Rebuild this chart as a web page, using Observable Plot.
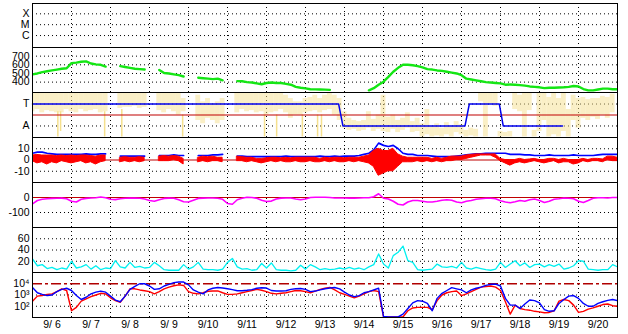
<!DOCTYPE html>
<html><head><meta charset="utf-8">
<script src="https://cdn.jsdelivr.net/npm/d3@7"></script>
<script src="https://cdn.jsdelivr.net/npm/@observablehq/plot@0.6"></script>
<style>
body{margin:0;background:#fff;}
#chart{position:relative;width:628px;height:334px;overflow:hidden;background:#fff;}
</style></head><body><div id="chart"></div>
<script>
// ---- data (3-hour samples from 9/6 00:00 to 9/21 00:00) ----
const dayLabels = ["9/ 6","9/ 7","9/ 8","9/ 9","9/10","9/11","9/12","9/13","9/14","9/15","9/16","9/17","9/18","9/19","9/20"];
const xrayTicks = [-4,-5,-6], xrayLabels = ["X","M","C"];
const speedTicks = [700,600,500,400], speedLabels = ["700","600","500","400"];
const sectorTicks = [1,-1], sectorLabels = ["T","A"];
const bzTicks = [10,0,-10], bzLabels = ["10","0","-10"];
const dstTicks = [0,-100], dstLabels = ["0","-100"];
const cyanTicks = [60,40,20], cyanLabels = ["60","40","20"];
const fluxTicks = [1e4,1e3,1e2], fluxLabels = ["10\u2074","10\u00b3","10\u00b2"];

const speed = [
 489,500,515,525,535,545,555,560,
 620,625,635,640,615,605,600,580,
 null,null,585,575,565,555,550,545,
 null,null,540,505,500,490,480,465,
 null,null,450,445,440,435,440,420,
 null,null,412,410,400,395,385,375,
 390,395,390,390,380,370,345,335,
 327,318,316,315,313,310,null,null,
 null,null,null,null,null,305,330,370,
 405,460,520,565,600,600,595,585,
 570,550,545,535,530,520,510,500,
 480,440,430,420,410,400,395,390,
 385,370,372,370,365,360,350,345,
 340,330,335,335,338,340,345,355,
 350,320,305,305,315,325,325,318,
 318];

const taLo = [
 0.3,0.5,0.2,0.4,0.3,0.2,0.2,0.5,
 0.3,0.2,0.5,0.3,0.4,0.5,0.2,0.3,
 null,null,0.6,0.7,0.7,0.8,0.6,0.7,
 null,null,0.4,0.2,0.5,0.3,0,0.3,
 null,null,-0.5,-0.8,-0.3,-0.5,-0.8,-0.5,
 null,null,0.2,0.5,0.3,0.4,0.2,0.3,
 0,0.2,0.3,0.5,0.2,-0.3,0,0,
 0.2,0.3,0.4,0.2,0.4,0.5,0,-0.5,
 -1.2,-1.4,-1.3,-1.5,-1.4,-1.2,-1.5,-1.3,
 -1.5,-1.6,-1.3,-1.6,-1.4,-1.2,-1.6,-1.5,
 -2,-1.8,-2,-1.9,-2,-1.8,-2,-1.6,
 -1.8,-2,-1.9,-2,1.2,-2,1.0,0.8,
 -2,-2,-2,0.5,0.3,-2,0.4,-2,
 -1.5,-0.5,-2,-1.8,-2,-1.5,-2,-0.5,
 -1.2,-0.3,-0.5,-0.2,-0.4,0,-0.3,0.2,
 null];
const taHi = [
 2,2,2,2,2,2,2,2,
 2,2,2,2,2,2,2,2,
 null,null,2,2,2,2,2,2,
 null,null,2,2,2,2,2,1.5,
 null,null,1.8,1.2,1.5,1.0,1.2,1.5,
 null,null,2,2,2,2,2,2,
 2,2,2,2,1.8,1.5,1.2,1.2,
 1.5,1.6,1.8,1.5,1.8,2,1.8,1.5,
 0.3,-0.3,-0.5,-0.6,-0.5,0.3,-0.4,0,
 1.8,-0.2,0,-0.5,-0.3,0.2,-0.6,-0.3,
 -0.8,0.5,-1,-0.8,-1.2,-0.7,-1.0,-0.6,
 -0.9,-1.4,-1.2,-1.3,2,2,2,2,
 -1.5,-1.6,-1.5,2,1.8,2,2,-1.4,
 2,2,1.6,2,1.5,2,0.5,1.8,
 1.5,1.6,1.4,1.5,1.5,1.7,1.6,1.9,
 null];
const spikeDay = [0.65,0.72,1.85,2.29,3.85,5.95,6.26,6.92,7.31,7.41];
const spikeLo  = [-2,-1.5,-2,-2,-2,-2,-2,-2,-2,-2];
const spikeHi  = [0.3,0.3,0.3,0.5,0,0,0,0,0,0];

const sectorDay = [0,7.85,7.96,11.09,11.2,11.97,12.07,13.59];
const sectorVal = [1,1,-1,-1,1,1,-1,-1];

const bt = [
 6,7,7,6,5.5,5,5,5,
 5,5,5,5.5,5,5,5.5,5.5,
 null,null,3.5,3.5,3.5,3.5,3.5,3.5,
 null,null,4,4,4,4.5,4,4,
 null,null,4,4,4,4.5,4.5,5,
 null,null,3.5,3.5,3,3,3,3,
 3,3,3,3,3.5,3,3,3,
 3,3,3,3.5,3,3,3.5,3,
 3.5,3.5,3.5,4,5,6,9,15,
 13,12,13,10,6,5,5,4,
 4,4,3.5,3,3,3,3,3.5,
 4,4.5,5,5.5,5.5,6,6,6,
 6,6,5,5,5,4.5,4.5,4,
 4,4,4.5,4,4,4,4,4.5,
 4,4,4,4,4.5,5,5,5,
 5];
const bzLo = [
 -1,-3,-2,-4,-2,-3,-1,-2,
 -3,-2,-1,-3,-2,-4,-2,-1,
 null,null,-2,-1,-2,-1,-2,-1,
 null,null,-1,-1,-1,0,-1,-4,
 null,null,-2,-1,-2,-1,-1,-2,
 null,null,-1,-1,-2,-1,-2,-3,
 -2,-1,-2,-1,-2,-2,-1,-2,
 -2,-1,-2,-2,-1,-2,-1,-2,
 -2,-1,-2,-1,-2,-3,-6,-14,
 -12,-10,-10,-6,-2,-2,-2,-1,
 -2,-1,-2,-1,-2,-1,-1,0,
 0,1,2,3,4,4,4,2,
 -1,-3,-5,-3,-2,-3,-2,-1,
 -2,-3,-2,-1,-3,-2,-2,-4,
 -3,-1,-2,-1,-1,-2,0,-1,
 -1];
const bzHi = [
 4,4.5,4,4,4,3.5,4,3.5,
 4,3.5,4,4,3.5,3,4,4,
 null,null,2,2.5,2,2,2.5,2,
 null,null,3,3.5,3,3.5,3,1,
 null,null,2,3,2.5,3,2,2,
 null,null,3,2.5,2,2,1,1,
 1.5,2,2,1.5,2,1.5,2,2,
 2,2,2,1,2,1.5,2,2,
 1.5,2,2,2,3,4,8,10,
 8,8,10,5,3,2,2,2,
 2,2,1,2,1,2,3,3,
 3,4,4.5,5,5,5,5,5,
 1,0,0,0,1,0,0.5,1,
 0,0,1,1,0,1,0,0,
 0,1,0,1,1,0.5,3,3,
 2];

const dst = [
 -42,-20,-12,-8,-6,-5,-4,-8,
 -25,-30,-12,-6,-3,-2,3,-2,
 -12,-14,-8,-5,-4,-3,-5,-10,
 -20,-25,-15,-6,-4,-5,-15,-28,
 -30,-18,-6,-4,-3,-3,-5,-12,
 -40,-45,-15,-5,2,0,-5,-18,
 -27,-24,-10,-4,-3,-3,-10,-15,
 -10,0,2,2,2,0,-3,-3,
 -3,-4,-4,-3,-2,-2,5,25,
 -5,-10,-25,-45,-50,-30,-20,-20,
 -25,-30,-30,-25,-18,-15,-18,-30,
 -35,-25,-20,-12,-8,-5,-5,-8,
 -22,-30,-35,-28,-20,-25,-15,-10,
 -20,-33,-25,-12,-8,-3,-5,-8,
 -25,-33,-20,-5,-2,-2,-3,0,
 0];

const cyan = [
 24,12,14,7,9,5,8,6,
 20,8,10,14,6,12,5,8,
 7,21,10,8,18,9,11,8,
 9,18,12,5,4,4,4,14,
 6,10,18,6,5,5,4,6,
 18,25,10,6,7,4,5,16,
 8,17,5,4,4,3,4,13,
 6,14,10,5,7,5,6,8,
 6,9,6,8,5,10,14,33,
 15,8,30,36,47,21,18,5,
 4,5,6,15,10,9,11,8,
 18,8,6,9,7,5,4,6,
 18,9,15,21,12,17,9,14,
 15,10,14,11,15,6,8,12,
 21,20,6,5,4,5,5,14,
 10];

// log10 of flux
const fluxBlueExp = [
 3.67,3.2,3.06,2.95,3.0,3.3,3.5,3.6,
 3.4,2.95,2.6,2.8,3.1,3.25,3.35,3.25,
 2.9,2.55,2.4,2.9,3.5,3.76,4.0,4.0,
 3.8,3.5,3.55,3.8,3.95,4.1,4.15,4.15,
 3.9,3.45,3.25,3.1,3.45,3.6,3.67,3.62,
 3.55,3.48,3.38,3.38,3.42,3.48,3.6,3.65,
 3.62,3.4,3.36,3.36,3.38,3.5,3.56,3.58,
 3.5,3.3,3.35,3.45,3.56,3.62,3.67,3.55,
 3.25,3.0,2.85,2.95,3.2,3.3,3.45,3.6,
 1.1,1.05,1.05,1.05,1.3,1.8,2.3,2.5,
 2.45,2.25,1.6,2.7,3.15,3.4,3.65,3.55,
 3.45,3.2,3.45,3.6,3.7,3.85,3.95,3.97,
 3.8,2.7,2.1,2.1,1.8,2.2,2.55,2.5,
 2.3,1.7,1.55,1.6,2.25,2.6,2.9,2.95,
 2.7,2.25,2.0,2.0,2.25,2.4,2.52,2.6,
 2.5];
const fluxRedExp = [
 2.45,2.9,2.95,3.05,3.1,3.3,3.55,3.4,
 1.6,1.9,2.45,2.65,2.85,3.0,3.15,3.1,
 2.75,2.5,2.35,2.9,3.55,3.55,3.45,3.38,
 3.3,3.1,3.3,3.55,3.7,3.82,3.9,3.85,
 3.3,3.15,3.1,3.2,3.33,3.36,3.36,3.2,
 3.06,3.06,3.1,3.2,3.3,3.4,3.5,3.42,
 3.3,3.15,3.1,3.15,3.2,3.3,3.4,3.38,
 3.3,3.2,3.35,3.5,3.6,3.67,3.45,3.2,
 3.05,2.9,2.75,2.9,3.1,3.3,3.4,3.3,
 1.05,1.05,1.05,1.05,1.05,1.6,1.85,1.9,
 1.9,1.9,1.7,2.5,3.0,3.2,3.3,3.36,
 2.95,3.1,3.3,3.5,3.7,3.75,3.8,3.7,
 3.4,2.4,1.3,2.1,1.8,1.7,1.65,1.55,
 1.5,1.42,1.45,1.6,2.45,2.6,2.5,2.1,
 1.45,1.55,1.75,1.85,2.0,2.15,2.2,2.05,
 2.0];

// ---- layout / helpers ----
const T0 = Date.UTC(2020, 8, 6);
const DAY = 86400e3, H3 = 3 * 3600e3;
const xDomain = [new Date(T0), new Date(T0 + 15 * DAY)];
const idx = d3.range(speed.length);
const tAt = i => new Date(T0 + i * H3);
const tDay = d => new Date(T0 + d * DAY);
const midnights = d3.range(1, 15).map(tDay);
const noons = d3.range(0, 15).map(d => tDay(d + 0.5));
const FONT = "'Liberation Sans', Arial, Helvetica, sans-serif";
const DOTS = "1,3";
const ZERO = "#c00000";
const YELLOW = "#f5e08e";
const chart = document.getElementById("chart");

function panel(top, h, yOpt, ticks, labels, grid, marks, isBottom) {
  const mb = isBottom ? 17 : 0;
  const xOpt = isBottom
    ? {type: "utc", domain: xDomain, ticks: noons, tickSize: 0, tickPadding: 3, label: null,
       tickFormat: d => dayLabels[Math.floor((d - T0) / DAY)]}
    : {type: "utc", domain: xDomain, axis: null};
  const svg = Plot.plot({
    width: 628, height: h + mb,
    marginLeft: 32, marginRight: 11, marginTop: 0, marginBottom: mb,
    style: {fontFamily: FONT, fontSize: "10.5px", color: "black", overflow: "visible", background: "transparent"},
    x: xOpt,
    y: {...yOpt, ticks, tickSize: 0, tickPadding: 3, label: null,
        tickFormat: d => labels[ticks.findIndex(t => Math.abs(t - d) < 1e-9)]},
    marks: [
      Plot.ruleX(midnights, {stroke: "black", strokeDasharray: DOTS}),
      Plot.ruleY(grid, {stroke: "black", strokeDasharray: DOTS}),
      ...marks,
      Plot.frame({stroke: "black"})
    ]
  });
  svg.style.position = "absolute";
  svg.style.left = "0px";
  svg.style.top = top + "px";
  chart.append(svg);
}

// 1. X-ray class panel (empty)
panel(3, 44, {domain: [-7.1, -3.05]}, xrayTicks, xrayLabels, xrayTicks, []);

// 2. Solar wind speed
panel(47, 45, {domain: [280, 800]}, speedTicks, speedLabels, speedTicks, [
  Plot.line(idx, {x: tAt, y: i => speed[i], stroke: "#14e614", strokeWidth: 2.4, clip: true})
]);

// 3. Sector (T / A)
panel(92, 45, {domain: [-2.05, 2.05]}, sectorTicks, sectorLabels, sectorTicks, [
  Plot.rect(idx.filter(i => taLo[i] != null), {
    x1: i => new Date(T0 + (i - 0.5) * H3), x2: i => new Date(T0 + (i + 0.5) * H3),
    y1: i => taLo[i], y2: i => taHi[i], fill: YELLOW, fillOpacity: 0.5, clip: true}),
  Plot.ruleX(d3.range(spikeDay.length), {x: i => tDay(spikeDay[i]), y1: i => spikeLo[i], y2: i => spikeHi[i],
    stroke: YELLOW, strokeWidth: 1.5, clip: true}),
  Plot.ruleY([0], {stroke: ZERO, strokeWidth: 1.2}),
  Plot.line(d3.range(sectorDay.length), {x: i => tDay(sectorDay[i]), y: i => sectorVal[i], stroke: "#0000ee", strokeWidth: 1.5})
]);

// 4. IMF Bt / Bz
panel(137, 45, {domain: [-20, 20]}, bzTicks, bzLabels, [10, -10], [
  Plot.ruleY([0], {stroke: ZERO, strokeWidth: 1.2}),
  Plot.line(idx, {x: tAt, y: i => bt[i], stroke: "#0000ff", strokeWidth: 1.7, clip: true}),
  Plot.areaY(idx, {x: tAt, y1: i => bzLo[i], y2: i => bzHi[i], fill: "#ff0000", stroke: "#ff0000", strokeWidth: 1, clip: true})
]);

// 5. Dst
panel(182, 45, {domain: [-200, 100]}, dstTicks, dstLabels, [-100], [
  Plot.ruleY([0], {stroke: ZERO, strokeWidth: 1.2}),
  Plot.line(idx, {x: tAt, y: i => dst[i], stroke: "#ff00ff", strokeWidth: 1.6, clip: true})
]);

// 6. cyan index
panel(227, 45, {domain: [0, 80]}, cyanTicks, cyanLabels, cyanTicks, [
  Plot.line(idx, {x: tAt, y: i => cyan[i], stroke: "#00f0f0", strokeWidth: 1.3, clip: true})
]);

// 7. electron flux (log)
panel(272, 45, {type: "log", domain: [10, 1e5]}, fluxTicks, fluxLabels, [1e3, 1e2], [
  Plot.ruleY([1e4], {stroke: "#b00000", strokeWidth: 1.3, strokeDasharray: "10,3,3,3"}),
  Plot.line(idx, {x: tAt, y: i => 10 ** fluxRedExp[i], stroke: "#ff0000", strokeWidth: 1.4, clip: true}),
  Plot.line(idx, {x: tAt, y: i => 10 ** fluxBlueExp[i], stroke: "#0000ff", strokeWidth: 1.4, clip: true})
], true);
</script>
</body></html>
